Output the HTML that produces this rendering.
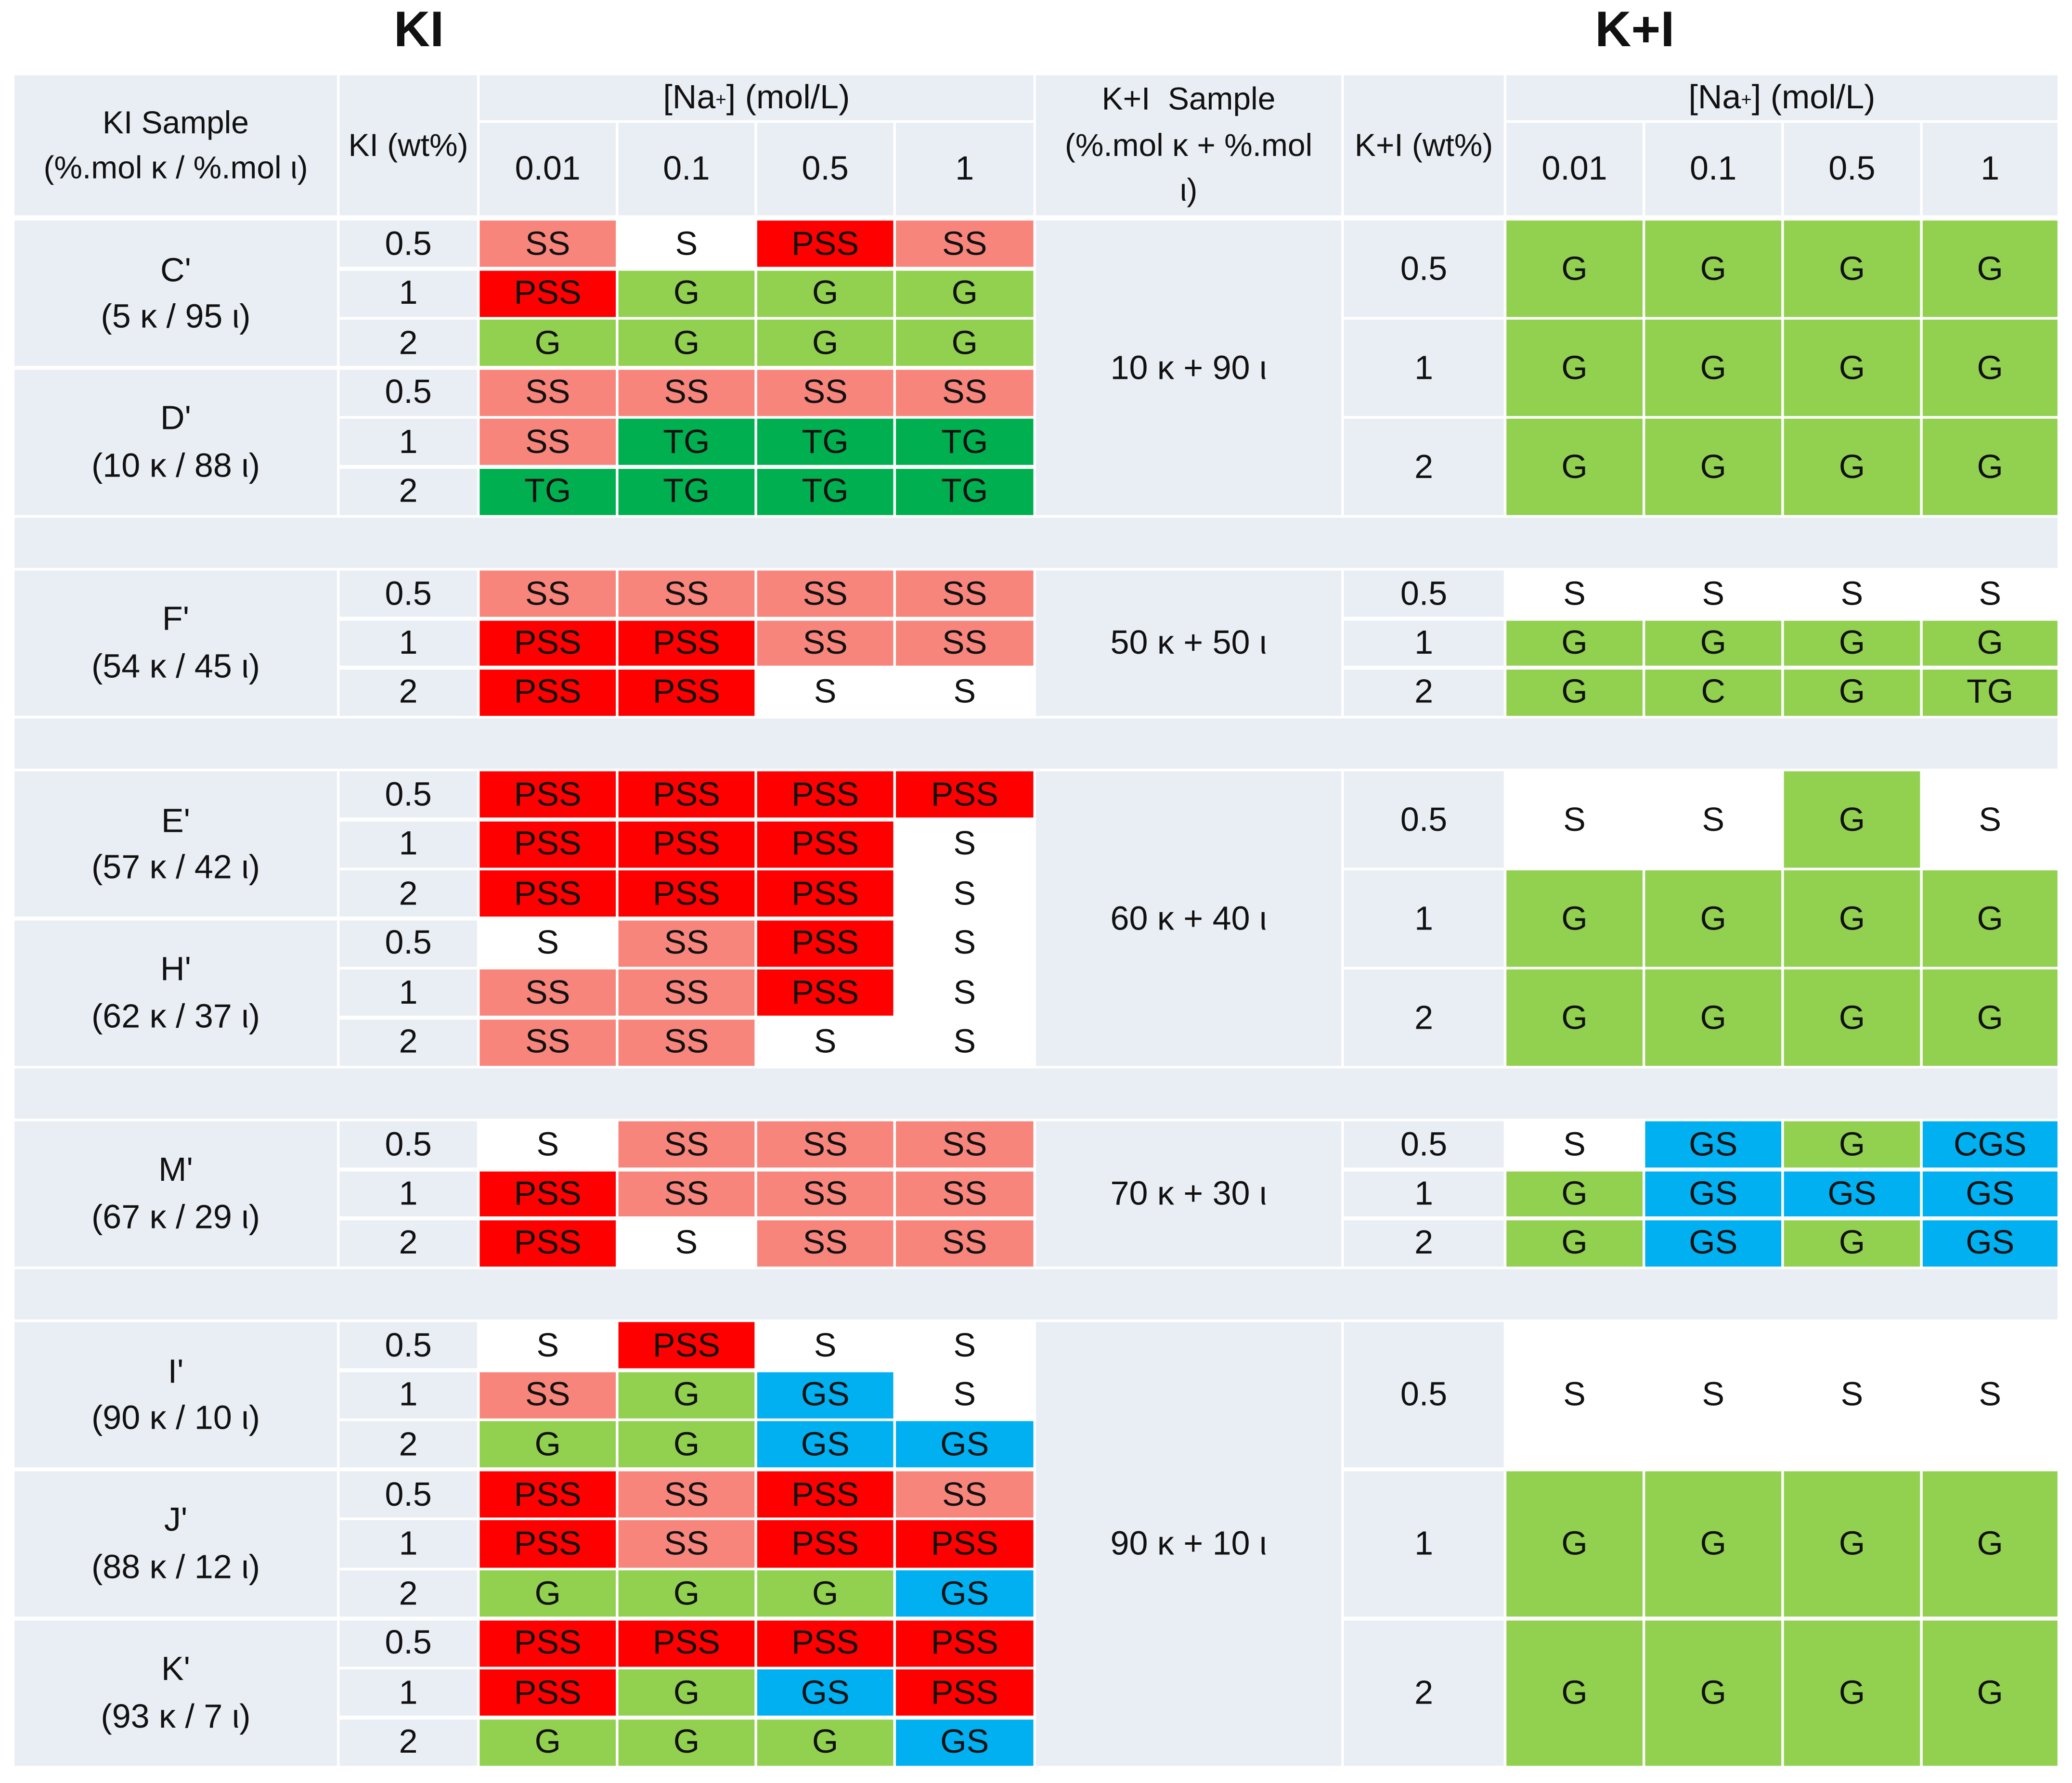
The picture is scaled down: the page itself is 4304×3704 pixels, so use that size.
<!DOCTYPE html>
<html><head><meta charset="utf-8"><style>
html,body{margin:0;padding:0;background:#fff;}
body{width:4304px;height:3704px;overflow:hidden;}
#wrap{position:absolute;left:0;top:0;width:1568px;height:1350px;transform:scale(2.7449,2.7437);transform-origin:0 0;font-family:"Liberation Sans",sans-serif;color:#111;}
.c{position:absolute;display:flex;align-items:center;justify-content:center;text-align:center;font-size:25.5px;line-height:1.4;box-sizing:border-box;padding-top:2px;}
.t{position:absolute;font-weight:bold;font-size:38px;}
sup{font-size:14px;line-height:0;vertical-align:super;}
</style></head><body>
<div id="wrap">
<div class="t" style="left:298px;top:2px;">KI</div>
<div class="t" style="left:1207px;top:2px;">K+I</div>
</div>
<script>
const naLabels=['0.01','0.1','0.5','1'];
const wtLabels=['0.5','1','2'];
const kiSamples=[["C'","(5 κ / 95 ι)"],["D'","(10 κ / 88 ι)"],["F'","(54 κ / 45 ι)"],["E'","(57 κ / 42 ι)"],["H'","(62 κ / 37 ι)"],["M'","(67 κ / 29 ι)"],["I'","(90 κ / 10 ι)"],["J'","(88 κ / 12 ι)"],["K'","(93 κ / 7 ι)"]];
const kiBlockOf=[0,0,1,2,2,3,4,4,4];
const kiData=[
[['SS','S','PSS','SS'],['PSS','G','G','G'],['G','G','G','G']],
[['SS','SS','SS','SS'],['SS','TG','TG','TG'],['TG','TG','TG','TG']],
[['SS','SS','SS','SS'],['PSS','PSS','SS','SS'],['PSS','PSS','S','S']],
[['PSS','PSS','PSS','PSS'],['PSS','PSS','PSS','S'],['PSS','PSS','PSS','S']],
[['S','SS','PSS','S'],['SS','SS','PSS','S'],['SS','SS','S','S']],
[['S','SS','SS','SS'],['PSS','SS','SS','SS'],['PSS','S','SS','SS']],
[['S','PSS','S','S'],['SS','G','GS','S'],['G','G','GS','GS']],
[['PSS','SS','PSS','SS'],['PSS','SS','PSS','PSS'],['G','G','G','GS']],
[['PSS','PSS','PSS','PSS'],['PSS','G','GS','PSS'],['G','G','G','GS']]];
const kpiSamples=['10 κ + 90 ι','50 κ + 50 ι','60 κ + 40 ι','70 κ + 30 ι','90 κ + 10 ι'];
const kpiData=[
[['G','G','G','G'],['G','G','G','G'],['G','G','G','G']],
[['S','S','S','S'],['G','G','G','G'],['G','C','G','TG']],
[['S','S','G','S'],['G','G','G','G'],['G','G','G','G']],
[['S','GS','G','CGS'],['G','GS','GS','GS'],['G','GS','G','GS']],
[['S','S','S','S'],['G','G','G','G'],['G','G','G','G']]];
const fills={S:'#FFFFFF',SS:'#F8857C',PSS:'#FF0000',G:'#92D050',TG:'#00B050',GS:'#00B0F0',CGS:'#00B0F0',C:'#92D050'};
const kpiFills=Object.assign({},fills,{TG:'#92D050'});
const blockStart=[166,431,583,848,1000];
const blockEnd=[391,543,808,960,1338];
const blockRows=[6,3,6,3,9];
const colB=[10,256,362,467,572,677,783,1016,1139,1244,1349,1454,1558];
const W=document.getElementById('wrap');
function cell(x0,y0,x1,y1,txt,bg,name){
 const d=document.createElement('div');
 d.className='c';
 d.style.left=(x0+1.2)+'px';d.style.top=(y0+1.2)+'px';
 d.style.width=(x1-x0-2.4)+'px';d.style.height=(y1-y0-2.4)+'px';
 d.style.background=bg;d.innerHTML=txt;
 
 
 W.appendChild(d);return d;
}
const HB='#E9EDF4';
cell(colB[0],56,colB[1],164,'KI Sample<br>(%.mol κ / %.mol ι)',HB,'ki-sample-header').style.fontSize='24px';
cell(colB[1],56,colB[2],164,'KI (wt%)',HB,'ki-wt-header').style.fontSize='24px';
cell(colB[2],56,colB[6],92,'[Na<sup>+</sup>] (mol/L)',HB,'ki-na-header');
const kh=cell(colB[6],56,colB[7],164,'K+I&nbsp; Sample<br>(%.mol κ + %.mol<br>ι)',HB,'kpi-sample-header');
kh.style.lineHeight='1.45';kh.style.fontSize='24px';
cell(colB[7],56,colB[8],164,'K+I (wt%)',HB,'kpi-wt-header').style.fontSize='24px';
cell(colB[8],56,colB[12],92,'[Na<sup>+</sup>] (mol/L)',HB,'kpi-na-header');
naLabels.forEach((l,i)=>{
 cell(colB[2+i],92,colB[3+i],164,l,HB,'ki-na-'+l);
 cell(colB[8+i],92,colB[9+i],164,l,HB,'kpi-na-'+l);
});
for(let b=0;b<4;b++){cell(colB[0],blockEnd[b],colB[12],blockStart[b+1],'',HB,'separator-band');}
const used=[0,0,0,0,0];
kiSamples.forEach((s,si)=>{
 const b=kiBlockOf[si];
 const rh=(blockEnd[b]-blockStart[b])/blockRows[b];
 const r0=used[b];used[b]+=3;
 const y0=blockStart[b]+r0*rh;
 cell(colB[0],y0,colB[1],y0+3*rh,s[0]+'<br>'+s[1],HB,'ki-sample-label');
 for(let r=0;r<3;r++){
  const ya=y0+r*rh,yb=ya+rh;
  cell(colB[1],ya,colB[2],yb,wtLabels[r],HB,'ki-wt-label');
  for(let c=0;c<4;c++){const v=kiData[si][r][c];cell(colB[2+c],ya,colB[3+c],yb,v,fills[v],'ki-cell');}
 }
});
kpiSamples.forEach((s,b)=>{
 const y0=blockStart[b],y1=blockEnd[b];
 cell(colB[6],y0,colB[7],y1,s,HB,'kpi-sample-label');
 const rh=(y1-y0)/3;
 for(let r=0;r<3;r++){
  const ya=y0+r*rh,yb=ya+rh;
  cell(colB[7],ya,colB[8],yb,wtLabels[r],HB,'kpi-wt-label');
  for(let c=0;c<4;c++){const v=kpiData[b][r][c];cell(colB[8+c],ya,colB[9+c],yb,v,kpiFills[v],'kpi-cell');}
 }
});
</script>
</body></html>
